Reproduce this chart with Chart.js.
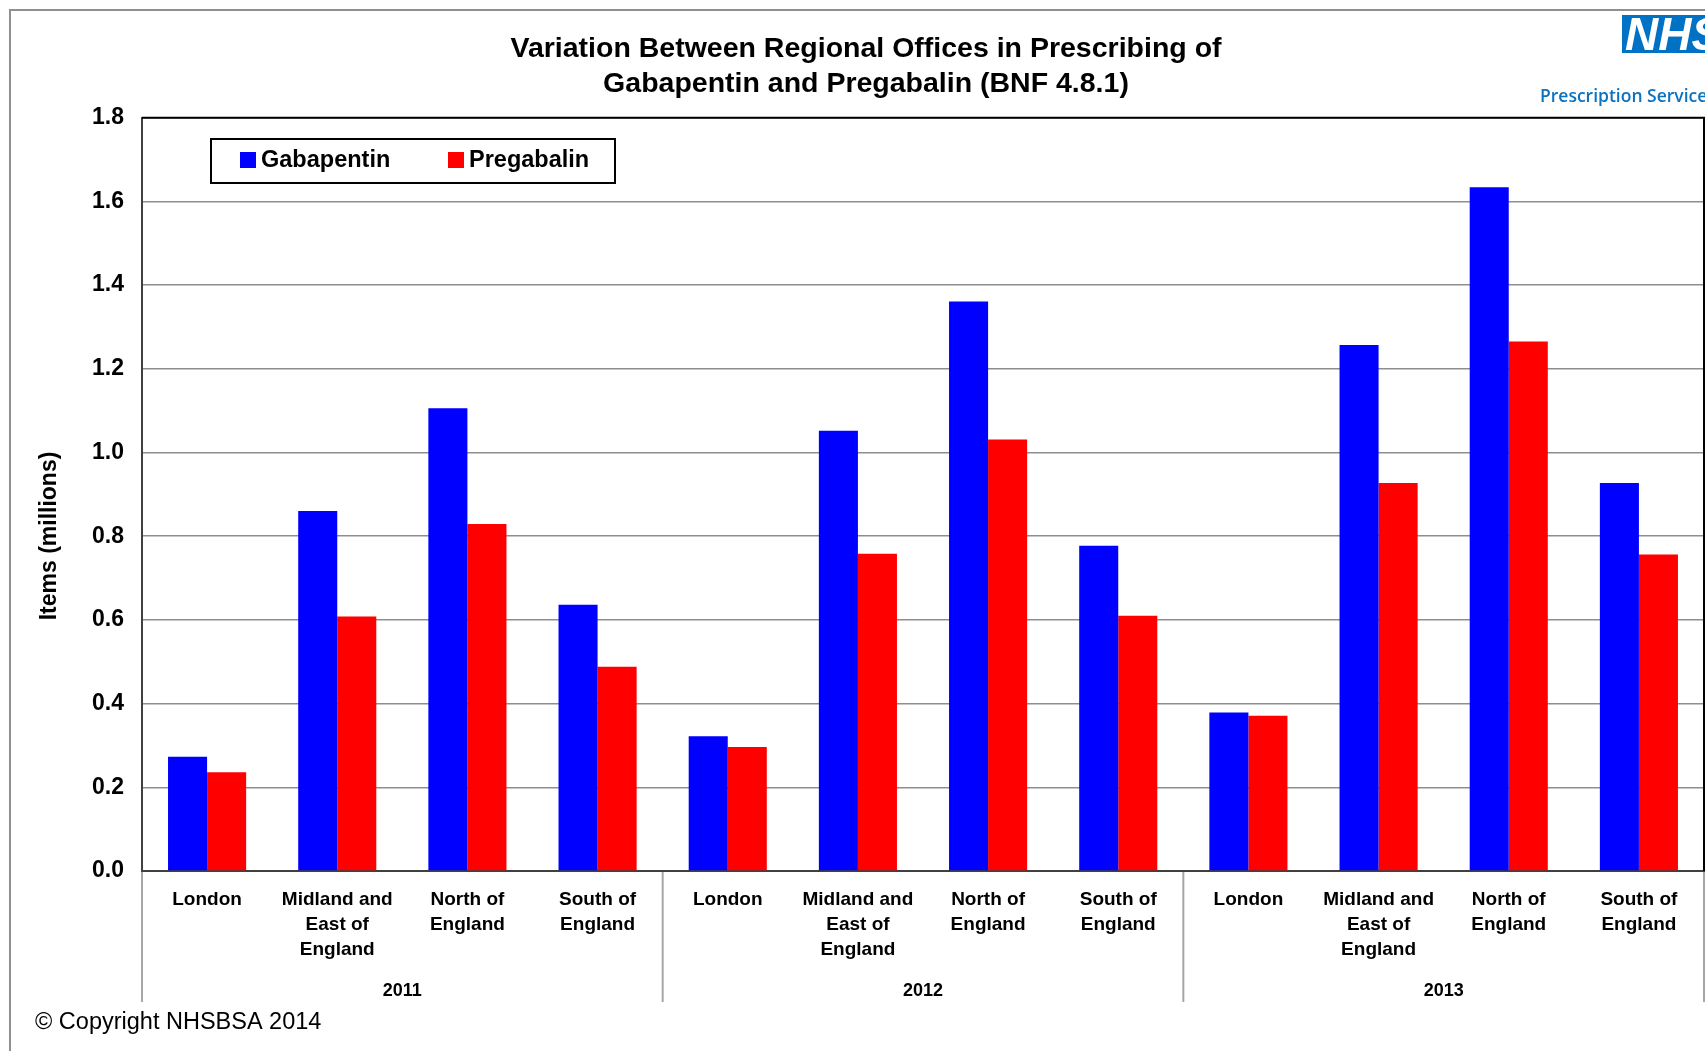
<!DOCTYPE html>
<html>
<head>
<meta charset="utf-8">
<script src="https://cdn.jsdelivr.net/npm/chart.js@4.4.1/dist/chart.umd.min.js"></script>
<style>
    body { margin: 0; background: #fff; }
    #wrap { width: 1705px; height: 1051px; }
</style>
</head>
<body>
<div id="wrap"><canvas id="grafik" width="1705" height="1051"></canvas></div>
<script>
// data (items, millions)
const years = ["2011", "2012", "2013"];
const regions = [["London"], ["Midland and", "East of", "England"], ["North of", "England"], ["South of", "England"]];
const gabapentin = [0.273, 0.860, 1.106, 0.636, 0.322, 1.052, 1.361, 0.777, 0.379, 1.257, 1.634, 0.927];
const pregabalin = [0.236, 0.608, 0.829, 0.488, 0.296, 0.758, 1.031, 0.610, 0.371, 0.927, 1.265, 0.756];
const seriesNames = ["Gabapentin", "Pregabalin"];
const seriesColors = ["#0000ff", "#ff0000"];
const titleLines = ["Variation Between Regional Offices in Prescribing of", "Gabapentin and Pregabalin (BNF 4.8.1)"];
const yTitle = "Items (millions)";

const font = "'Liberation Sans', Arial, sans-serif";

let labels = [];
years.forEach(() => regions.forEach(r => labels.push(r)));

// extra drawing: frame, legend box, year groups, logo, copyright
const hiasan = {
    id: "hiasan",
    afterDraw(chart) {
        const ctx = chart.ctx;
        const area = chart.chartArea;
        const xs = chart.scales.x;
        ctx.save();

        // outer frame
        ctx.strokeStyle = "#909090";
        ctx.lineWidth = 2;
        ctx.beginPath();
        ctx.moveTo(10, 1051);
        ctx.lineTo(10, 10);
        ctx.lineTo(1705, 10);
        ctx.stroke();

        // plot box top / right
        ctx.strokeStyle = "#000";
        ctx.lineWidth = 2;
        ctx.beginPath();
        ctx.moveTo(area.left, area.top);
        ctx.lineTo(area.right, area.top);
        ctx.lineTo(area.right, area.bottom);
        ctx.stroke();

        // y axis title
        ctx.fillStyle = "#000";
        ctx.font = "bold 23px " + font;
        ctx.textAlign = "center";
        ctx.textBaseline = "middle";
        ctx.save();
        ctx.translate(50, 536);
        ctx.rotate(-Math.PI / 2);
        ctx.fillText(yTitle, 0, 0);
        ctx.restore();

        // year separators and labels
        const per = regions.length;
        const step = xs.getPixelForValue(1) - xs.getPixelForValue(0);
        ctx.strokeStyle = "#a6a6a6";
        ctx.lineWidth = 2;
        for (let i = 0; i <= years.length; i++) {
            let x = xs.getPixelForValue(i * per) - step / 2;
            ctx.beginPath();
            ctx.moveTo(x, area.bottom + 1);
            ctx.lineTo(x, 1002);
            ctx.stroke();
        }
        ctx.fillStyle = "#000";
        ctx.font = "bold 18px " + font;
        years.forEach((y, i) => {
            let x = (xs.getPixelForValue(i * per) + xs.getPixelForValue(i * per + per - 1)) / 2;
            ctx.fillText(y, x, 991);
        });

        // legend
        ctx.fillStyle = "#fff";
        ctx.fillRect(211, 139, 404, 44);
        ctx.strokeStyle = "#000";
        ctx.lineWidth = 2;
        ctx.strokeRect(211, 139, 404, 44);
        ctx.font = "bold 23.5px " + font;
        ctx.textAlign = "left";
        const legX = [240, 448];
        seriesNames.forEach((n, i) => {
            ctx.fillStyle = seriesColors[i];
            ctx.fillRect(legX[i], 152, 16, 16);
            ctx.fillStyle = "#000";
            ctx.fillText(n, legX[i] + 21, 161);
        });

        // NHS logo
        ctx.fillStyle = "#0072c6";
        ctx.fillRect(1622, 15, 90, 38);
        ctx.fillStyle = "#fff";
        ctx.font = "italic 900 46px " + font;
        ctx.textBaseline = "alphabetic";
        ctx.fillText("NHS", 1625, 50);
        ctx.fillStyle = "#0a72c0";
        ctx.font = "600 17.5px 'Open Sans', sans-serif";
        ctx.textBaseline = "middle";
        ctx.fillText("Prescription Services", 1540, 97);

        // copyright
        ctx.fillStyle = "#000";
        ctx.font = "23.5px " + font;
        ctx.fillText("\u00A9 Copyright NHSBSA 2014", 35, 1023);

        ctx.restore();
    }
};

const ctx = document.getElementById("grafik").getContext("2d");
new Chart(ctx, {
    type: "bar",
    data: {
        labels: labels,
        datasets: seriesNames.map((n, i) => ({
            label: n,
            data: i === 0 ? gabapentin : pregabalin,
            backgroundColor: seriesColors[i],
            borderWidth: 0,
            categoryPercentage: 0.6,
            barPercentage: 1.0
        }))
    },
    options: {
        responsive: false,
        animation: false,
        layout: { padding: { left: 28, right: 1, top: 0, bottom: 0 } },
        plugins: {
            legend: { display: false },
            tooltip: { enabled: false },
            title: {
                display: true,
                text: titleLines,
                color: "#000",
                font: { family: font, size: 28.5, weight: "bold", lineHeight: 1.24 },
                padding: { top: 31, bottom: 16 }
            }
        },
        scales: {
            x: {
                grid: { display: false, drawTicks: false },
                border: { color: "#404040", width: 2 },
                ticks: {
                    color: "#000",
                    autoSkip: false,
                    maxRotation: 0,
                    padding: 16,
                    font: { family: font, size: 19, weight: "bold", lineHeight: 1.32 }
                },
                afterFit: s => { s.height = 180; }
            },
            y: {
                min: 0,
                max: 1.8,
                ticks: {
                    stepSize: 0.2,
                    color: "#000",
                    padding: 18,
                    font: { family: font, size: 23, weight: "bold" },
                    callback: v => v.toFixed(1)
                },
                grid: { color: "#8e8e8e", lineWidth: 1.5, drawTicks: false },
                border: { color: "#404040", width: 2 },
                afterFit: s => { s.width = 114; }
            }
        }
    },
    plugins: [hiasan]
});
</script>
</body>
</html>
